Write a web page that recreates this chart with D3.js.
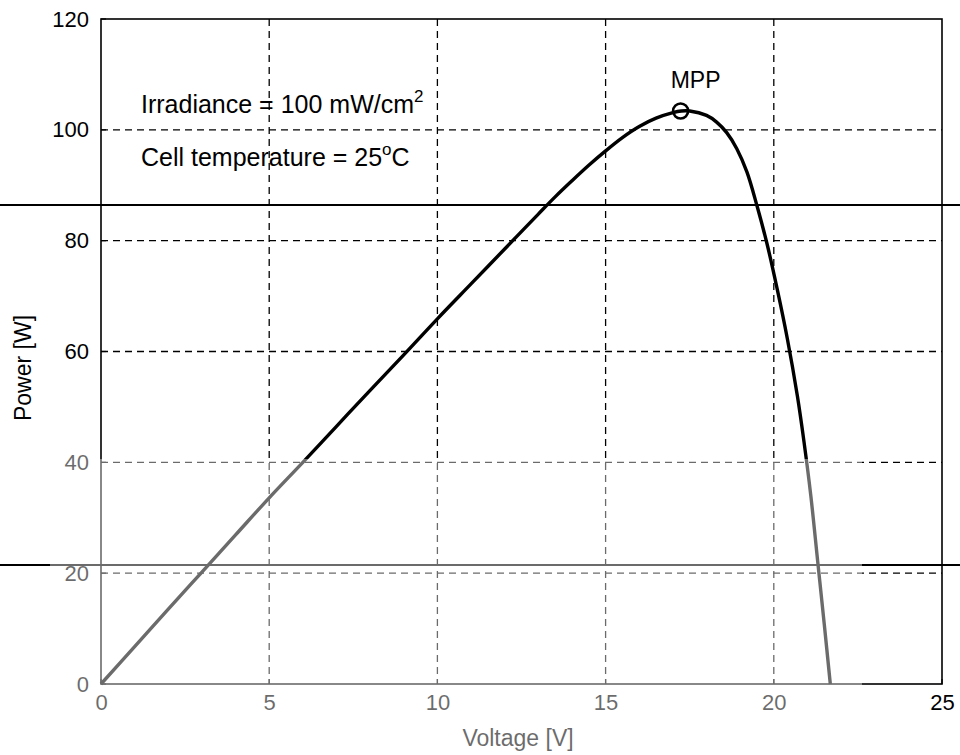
<!DOCTYPE html>
<html><head><meta charset="utf-8">
<script src="https://cdn.jsdelivr.net/npm/d3@7"></script>
<style>body{margin:0;background:#fff}svg{display:block}</style>
</head><body>
<script>
// ---- data ----
const voltage = [0, 1, 2, 3, 4, 5, 6, 7, 8, 9, 10, 11, 12, 13, 13.5, 14, 14.5, 15, 15.5, 16, 16.5, 17, 17.25, 17.5, 18, 18.3, 18.6, 18.9, 19.2, 19.5, 19.8, 20.1, 20.4, 20.7, 20.9, 21.1, 21.3, 21.5, 21.68];
const power   = [0, 6.75, 13.5, 20.2, 26.9, 33.6, 40.0, 46.5, 53.0, 59.4, 65.9, 72.2, 78.5, 84.8, 87.9, 90.8, 93.6, 96.2, 98.6, 100.6, 102.1, 103.1, 103.4, 103.4, 102.6, 101.4, 99.5, 96.6, 92.4, 86.3, 79.4, 71.3, 62.4, 52.0, 43.6, 34.0, 22.4, 10.8, 0];
const mppVoltage = [17.23];
const mppPower = [103.4];
const xTickValues = [0, 5, 10, 15, 20, 25];
const yTickValues = [0, 20, 40, 60, 80, 100, 120];
const xLabel = "Voltage [V]";
const yLabel = "Power [W]";

const W = 960, H = 755;
const L = 101, R = 942, T = 19, B = 684;
const FONT = "'Liberation Sans', Arial, Helvetica, sans-serif";
const svg = d3.select("body").append("svg").attr("width", W).attr("height", H)
  .style("font-family", FONT);

const x = d3.scaleLinear().domain([0, 25]).range([L, R]);
const y = d3.scaleLinear().domain([0, 120]).range([B, T]);

// grid
const g = svg.append("g");
g.selectAll(".gx").data(xTickValues.filter(v => v > 0 && v < 25)).join("line")
  .attr("x1", d => x(d)).attr("x2", d => x(d)).attr("y1", T).attr("y2", B)
  .attr("stroke", "#000").attr("stroke-width", 1.3).attr("stroke-dasharray", "7,5");
g.selectAll(".gy").data(yTickValues.filter(v => v > 0 && v < 120)).join("line")
  .attr("x1", L).attr("x2", R).attr("y1", d => y(d)).attr("y2", d => y(d))
  .attr("stroke", "#000").attr("stroke-width", 1.3).attr("stroke-dasharray", "7,5");

// axes (box)
const xAxis = d3.axisBottom(x).tickValues(xTickValues).tickSize(0).tickPadding(10);
const yAxis = d3.axisLeft(y).tickValues(yTickValues).tickSize(0).tickPadding(12);
const ax = svg.append("g").attr("transform", `translate(0,${B})`).call(xAxis);
const ay = svg.append("g").attr("transform", `translate(${L},0)`).call(yAxis);
[ax, ay].forEach(a => {
  a.select(".domain").remove();
  a.selectAll("text").attr("font-size", 22).attr("fill", "#000").style("font-family", FONT);
});
svg.append("rect").attr("x", L).attr("y", T).attr("width", R - L).attr("height", B - T)
  .attr("fill", "none").attr("stroke", "#000").attr("stroke-width", 1.6);

// small inward ticks
svg.selectAll(".tx").data(xTickValues).join("line")
  .attr("x1", d => x(d)).attr("x2", d => x(d)).attr("y1", B).attr("y2", B - 5)
  .attr("stroke", "#000").attr("stroke-width", 1.2);
svg.selectAll(".ty").data(yTickValues).join("line")
  .attr("x1", L).attr("x2", L + 5).attr("y1", d => y(d)).attr("y2", d => y(d))
  .attr("stroke", "#000").attr("stroke-width", 1.2);

// curve
const pts = voltage.map((v, i) => [v, power[i]]);
const line = d3.line().x(d => x(d[0])).y(d => y(d[1])).curve(d3.curveCatmullRom.alpha(0.5));
svg.append("path").datum(pts).attr("d", line)
  .attr("fill", "none").attr("stroke", "#000").attr("stroke-width", 3.4)
  .attr("stroke-linejoin", "round");

// MPP marker
svg.selectAll(".mpp").data(mppVoltage).join("circle")
  .attr("cx", d => x(d)).attr("cy", (d, i) => y(mppPower[i])).attr("r", 7.5)
  .attr("fill", "none").attr("stroke", "#000").attr("stroke-width", 2.6);
svg.append("text").attr("x", x(mppVoltage[0]) + 15).attr("y", y(mppPower[0]) - 23)
  .attr("text-anchor", "middle").attr("font-size", 23).text("MPP");

// annotations
const t1 = svg.append("text").attr("x", 141).attr("y", 113).attr("font-size", 25);
t1.append("tspan").text("Irradiance = 100 mW/cm");
t1.append("tspan").attr("font-size", 17).attr("dy", -11).text("2");
const t2 = svg.append("text").attr("x", 141).attr("y", 166).attr("font-size", 25);
t2.append("tspan").text("Cell temperature = 25");
t2.append("tspan").attr("font-size", 17).attr("dy", -11).text("o");
t2.append("tspan").attr("dy", 11).text("C");

// axis labels
svg.append("text").attr("x", 518).attr("y", 746).attr("text-anchor", "middle")
  .attr("font-size", 23).text(xLabel);
svg.append("text").attr("transform", `translate(31,${368}) rotate(-90)`)
  .attr("text-anchor", "middle").attr("font-size", 23).text(yLabel);

// scan artefacts: two ruled lines across the page
svg.append("line").attr("x1", 0).attr("x2", W).attr("y1", 205).attr("y2", 205)
  .attr("stroke", "#000").attr("stroke-width", 2.2);
svg.append("line").attr("x1", 0).attr("x2", W).attr("y1", 565).attr("y2", 565)
  .attr("stroke", "#000").attr("stroke-width", 1.8);

// faint scanned zone at the bottom (lighter tone)
svg.append("path")
  .attr("d", "M50,450 L96,450 L96,459 L862,459 L862,755 L50,755 Z")
  .attr("fill", "#fff").attr("opacity", 0.42);
</script>
</body></html>
